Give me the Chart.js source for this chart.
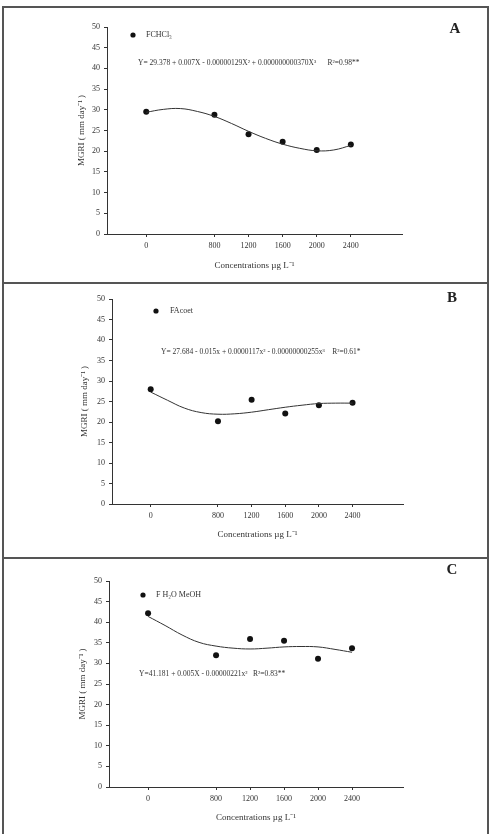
<!DOCTYPE html>
<html>
<head>
<meta charset="utf-8">
<script src="https://cdn.jsdelivr.net/npm/chart.js@4.4.1/dist/chart.umd.min.js"></script>
<style>
  html, body { margin: 0; padding: 0; background: #fff; width: 493px; height: 834px; overflow: hidden; }
  body { position: relative; }
  .frame { position: absolute; left: 2px; top: 6px; width: 483px; height: 840px; border: 2px solid #555; }
  .rule { position: absolute; left: 2px; width: 487px; height: 2px; background: #555; }
  canvas { position: absolute; left: 0; }
</style>
</head>
<body>
<div class="frame"></div>
<div class="rule" style="top:282px"></div>
<div class="rule" style="top:557px"></div>
<canvas id="chartA" width="493" height="282" style="top:0"></canvas>
<canvas id="chartB" width="493" height="275" style="top:283px"></canvas>
<canvas id="chartC" width="493" height="276" style="top:558px"></canvas>
<script>
  // Observed means per concentration (µg L-1)
  const concentrations = [0, 800, 1200, 1600, 2000, 2400];
  const mgriA = [29.5, 28.8, 24.1, 22.3, 20.3, 21.6];
  const mgriB = [28.0, 20.2, 25.4, 22.1, 24.1, 24.7];
  const mgriC = [42.2, 32.0, 35.9, 35.5, 31.1, 33.7];

  // Fitted curves
  const fitX = [0, 200, 400, 600, 800, 1000, 1200, 1400, 1600, 1800, 2000, 2200, 2400];
  const fitA = [29.4, 30.1, 30.3, 29.6, 28.4, 26.7, 24.8, 23.1, 21.7, 20.7, 20.1, 20.3, 21.4];
  const fitB = [27.3, 25.3, 23.4, 22.3, 21.9, 22.0, 22.4, 23.0, 23.6, 24.1, 24.5, 24.6, 24.6];
  const fitC = [41.4, 39.2, 36.9, 35.1, 34.2, 33.7, 33.5, 33.7, 34.0, 34.1, 34.0, 33.4, 32.7];

  const xTickValues = [0, 800, 1200, 1600, 2000, 2400];
  const yTickValues = [0, 5, 10, 15, 20, 25, 30, 35, 40, 45, 50];

  const textColor = '#333';
  const serif = '"Liberation Serif", "Times New Roman", serif';

  // Legend glyph, equation and panel letter drawn inside the plot
  const panelNotes = {
    id: 'panelNotes',
    afterDraw(chart, args, o) {
      const ctx = chart.ctx;
      ctx.save();
      ctx.fillStyle = '#111';
      ctx.beginPath();
      ctx.arc(o.mark[0], o.mark[1], 2.6, 0, Math.PI * 2);
      ctx.fill();
      ctx.fillStyle = textColor;
      ctx.textBaseline = 'middle';
      ctx.textAlign = 'left';
      ctx.font = '8px ' + serif;
      ctx.fillText(o.legend, o.mark[0] + o.gap, o.mark[1]);
      ctx.font = '7.5px ' + serif;
      ctx.fillText(o.equation, o.eq[0], o.eq[1]);
      ctx.fillStyle = '#222';
      ctx.font = 'bold 15px ' + serif;
      ctx.textAlign = 'center';
      ctx.fillText(o.letter, o.letterAt[0], o.letterAt[1]);
      ctx.restore();
    }
  };

  function makeChart(id, values, fit, g, notes) {
    const ctx = document.getElementById(id).getContext('2d');
    const canvasH = ctx.canvas.height;
    const yWidth = 40, xHeight = 40;
    return new Chart(ctx, {
      type: 'scatter',
      data: {
        datasets: [
          {
            label: 'fit',
            data: fitX.map((x, i) => ({ x: x, y: fit[i] })),
            showLine: true,
            borderColor: '#333',
            borderWidth: 1,
            pointRadius: 0,
            tension: 0.4,
            fill: false
          },
          {
            label: 'MGRI',
            data: concentrations.map((x, i) => ({ x: x, y: values[i] })),
            backgroundColor: '#111',
            borderColor: '#111',
            pointRadius: 3,
            pointBorderWidth: 0
          }
        ]
      },
      options: {
        responsive: false,
        animation: false,
        layout: {
          padding: {
            left: g.left - yWidth,
            right: 493 - g.right,
            top: g.top,
            bottom: canvasH - g.bottom - xHeight
          }
        },
        plugins: {
          legend: { display: false },
          tooltip: { enabled: false },
          panelNotes: notes
        },
        scales: {
          x: {
            type: 'linear',
            min: -460,
            max: 3000,
            afterFit: function(scale) { scale.height = xHeight; },
            afterBuildTicks: function(scale) {
              scale.ticks = xTickValues.map(v => ({ value: v }));
            },
            grid: { display: true, drawOnChartArea: false, drawTicks: true, tickLength: 3, color: '#333' },
            border: { display: true, color: '#333', width: 1 },
            ticks: {
              color: textColor, padding: 4, maxRotation: 0,
              font: { family: serif, size: 8 },
              callback: function(value) { return String(value); }
            },
            title: {
              display: true,
              text: 'Concentrations µg L⁻¹',
              color: textColor,
              padding: { top: 0, bottom: g.xTitlePad },
              font: { family: serif, size: 9 }
            }
          },
          y: {
            min: 0,
            max: 50,
            afterFit: function(scale) { scale.width = yWidth; },
            afterBuildTicks: function(scale) {
              scale.ticks = yTickValues.map(v => ({ value: v }));
            },
            grid: { display: true, drawOnChartArea: false, drawTicks: true, tickLength: 3, color: '#333' },
            border: { display: true, color: '#333', width: 1 },
            ticks: {
              color: textColor, padding: 4,
              font: { family: serif, size: 8 },
              callback: function(value) { return String(value); }
            },
            title: {
              display: true,
              text: 'MGRI ( mm day⁻¹ )',
              color: textColor,
              padding: { top: g.yTitlePad, bottom: 0 },
              font: { family: serif, size: 9 }
            }
          }
        }
      },
      plugins: [panelNotes]
    });
  }

  makeChart('chartA', mgriA, fitA,
    { left: 107, right: 402, top: 27, bottom: 234, xTitlePad: 3, yTitlePad: 9 },
    { mark: [133, 35], gap: 13, legend: 'FCHCl₃',
      eq: [138, 63], equation: 'Y= 29.378 + 0.007X - 0.00000129X² + 0.000000000370X³      R²=0.98**',
      letter: 'A', letterAt: [455, 29] });

  makeChart('chartB', mgriB, fitB,
    { left: 112, right: 403, top: 16, bottom: 221, xTitlePad: 4, yTitlePad: 7 },
    { mark: [156, 28], gap: 14, legend: 'FAcoet',
      eq: [161, 69], equation: 'Y= 27.684 - 0.015x + 0.0000117x² - 0.00000000255x³    R²=0.61*',
      letter: 'B', letterAt: [452, 15] });

  makeChart('chartC', mgriC, fitC,
    { left: 109, right: 403, top: 23, bottom: 229, xTitlePad: 4, yTitlePad: 8 },
    { mark: [143, 37], gap: 13, legend: 'F H₂O MeOH',
      eq: [139, 116], equation: 'Y=41.181 + 0.005X - 0.00000221x²   R²=0.83**',
      letter: 'C', letterAt: [452, 12] });
</script>
</body>
</html>
